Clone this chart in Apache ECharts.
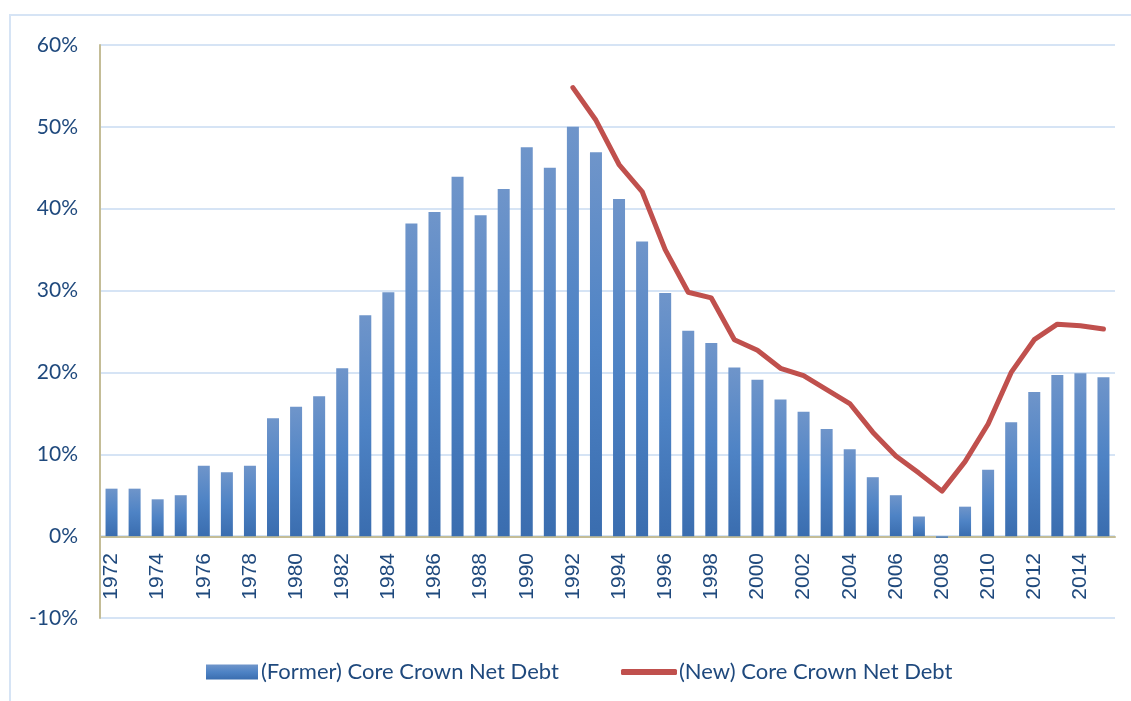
<!DOCTYPE html>
<html>
<head>
<meta charset="utf-8">
<script src="https://cdn.jsdelivr.net/npm/echarts@6/dist/echarts.min.js"></script>
<style>
html,body{margin:0;padding:0;background:#fff;}
#c{width:1131px;height:701px;}
</style>
</head>
<body>
<div id="c"></div>
<script>
var years = [];
for (var y = 1972; y <= 2015; y++) years.push(String(y));

var formerDebt = [5.8, 5.8, 4.5, 5.0, 8.6, 7.8, 8.6, 14.4, 15.8, 17.1,
  20.5, 27.0, 29.8, 38.2, 39.6, 43.9, 39.2, 42.4, 47.5, 45.0,
  50.0, 46.9, 41.2, 36.0, 29.7, 25.1, 23.6, 20.6, 19.1, 16.7,
  15.2, 13.1, 10.6, 7.2, 5.0, 2.4, -0.2, 3.6, 8.1, 13.9,
  17.6, 19.7, 19.9, 19.4];

var newDebt = [null, null, null, null, null, null, null, null, null, null,
  null, null, null, null, null, null, null, null, null, null,
  54.8, 50.8, 45.4, 42.1, 35.0, 29.8, 29.1, 24.0, 22.7, 20.5,
  19.6, 17.9, 16.2, 12.7, 9.8, 7.7, 5.5, 9.1, 13.7, 20.0,
  24.0, 25.9, 25.7, 25.3];

var yTicks = [-10, 0, 10, 20, 30, 40, 50, 60];

var seriesNames = ['(Former) Core Crown Net Debt', '(New) Core Crown Net Debt'];

var textColor = '#1f497d';
var chart = echarts.init(document.getElementById('c'));
chart.setOption({
  animation: false,
  backgroundColor: '#fff',
  graphic: [{
    type: 'rect',
    shape: {x: 10, y: 15, width: 1200, height: 800},
    style: {fill: 'none', stroke: '#d6e4f5', lineWidth: 2},
    silent: true
  }],
  grid: {left: 100, right: 16, top: 45, bottom: 83, containLabel: false},
  legend: [{
    data: [seriesNames[0]],
    left: 206, top: 661,
    padding: 0,
    itemWidth: 52, itemHeight: 15,
    icon: 'rect',
    textStyle: {color: textColor, fontSize: 22, fontFamily: 'Lato', padding: [0, 0, 0, -2]}
  }, {
    data: [seriesNames[1]],
    left: 621, top: 661,
    padding: 0,
    itemWidth: 56, itemHeight: 6,
    icon: 'roundRect',
    textStyle: {color: textColor, fontSize: 22, fontFamily: 'Lato', padding: [0, 0, 0, -3]}
  }],
  xAxis: {
    type: 'category',
    data: years,
    position: 'bottom',
    offset: -81,
    axisLine: {onZero: false, lineStyle: {color: '#c4bd97', width: 2}},
    axisTick: {show: false},
    axisLabel: {
      interval: 1,
      rotate: 90,
      margin: 16,
      color: textColor,
      fontSize: 21,
      fontFamily: 'Liberation Sans',
      hideOverlap: false
    },
    splitLine: {show: false}
  },
  yAxis: {
    type: 'value',
    min: -10, max: 60, interval: 10,
    axisLine: {show: true, lineStyle: {color: '#c4bd97', width: 2}},
    axisTick: {show: false},
    axisLabel: {
      margin: 22,
      color: textColor,
      fontSize: 21,
      fontFamily: 'Lato',
      formatter: function (v) { return yTicks.indexOf(v) >= 0 ? v + '%' : ''; }
    },
    splitLine: {show: true, lineStyle: {color: '#d6e4f5', width: 2}}
  },
  series: [{
    name: seriesNames[0],
    type: 'bar',
    data: formerDebt,
    barWidth: 12,
    itemStyle: {
      color: new echarts.graphic.LinearGradient(0, 0, 0, 1, [
        {offset: 0, color: '#6f95ca'},
        {offset: 0.5, color: '#4e83c5'},
        {offset: 1, color: '#3a6daf'}
      ])
    }
  }, {
    name: seriesNames[1],
    type: 'line',
    data: newDebt,
    symbol: 'none',
    showSymbol: false,
    connectNulls: false,
    lineStyle: {color: '#c0504d', width: 5, cap: 'round', join: 'round'},
    itemStyle: {color: '#c0504d'}
  }]
});
</script>
</body>
</html>
